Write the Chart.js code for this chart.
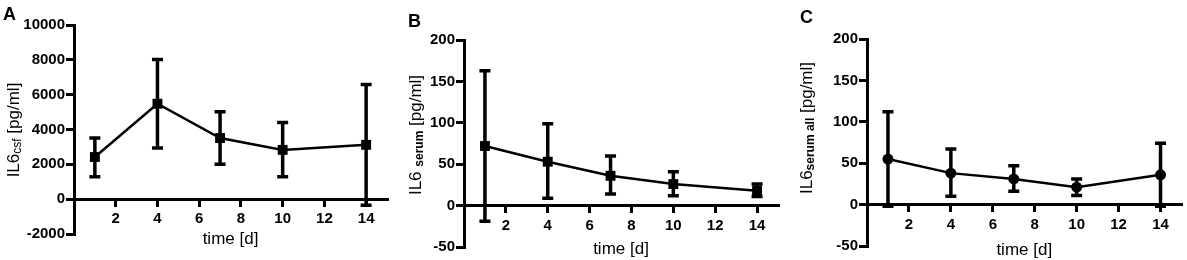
<!DOCTYPE html>
<html>
<head>
<meta charset="utf-8">
<script src="https://cdn.jsdelivr.net/npm/chart.js@4.4.1/dist/chart.umd.min.js"></script>
<style>
  html, body { margin: 0; padding: 0; background: #fff; }
  #wrap { position: relative; width: 1187px; height: 260px; }
  .panel { position: absolute; top: 0; height: 260px; }
</style>
</head>
<body>
<div id="wrap">
  <div class="panel" style="left:0;width:395px"><canvas id="chartA"></canvas></div>
  <div class="panel" style="left:395px;width:395px"><canvas id="chartB"></canvas></div>
  <div class="panel" style="left:790px;width:397px"><canvas id="chartC"></canvas></div>
</div>
<script>
// days of sampling
const days = [1, 4, 7, 10, 14];
const xTicks = [2, 4, 6, 8, 10, 12, 14];

// A: IL6 in csf
const csfMean = [2420, 5480, 3510, 2830, 3120];
const csfLow = [1280, 2940, 2010, 1280, -350];
const csfHigh = [3510, 8020, 5020, 4400, 6580];
const csfTicks = [-2000, 0, 2000, 4000, 6000, 8000, 10000];

// B: IL6 serum
const serumMean = [72, 53, 36, 26, 18];
const serumLow = [-19, 9, 14, 12, 11];
const serumHigh = [163, 99, 60, 41, 26];

// C: IL6 serum all
const serumAllMean = [55, 38, 31, 21, 36];
const serumAllLow = [-2, 10, 16, 11, -2];
const serumAllHigh = [112, 67, 47, 31, 74];

const serumTicks = [-50, 0, 50, 100, 150, 200];

const FONT = '"Liberation Sans", Arial, sans-serif';
const INK = '#000';

const errorBars = {
  id: 'errorBars',
  beforeDatasetsDraw(chart, args, opts) {
    const { ctx, scales: { x, y } } = chart;
    ctx.save();
    ctx.strokeStyle = INK;
    ctx.lineWidth = 3.5;
    days.forEach((d, i) => {
      const px = x.getPixelForValue(d);
      const lo = y.getPixelForValue(opts.low[i]);
      const hi = y.getPixelForValue(opts.high[i]);
      ctx.beginPath();
      ctx.moveTo(px, lo);
      ctx.lineTo(px, hi);
      ctx.moveTo(px - 5.5, lo);
      ctx.lineTo(px + 5.5, lo);
      ctx.moveTo(px - 5.5, hi);
      ctx.lineTo(px + 5.5, hi);
      ctx.stroke();
    });
    ctx.restore();
  },
  afterDraw(chart, args, opts) {
    const { ctx } = chart;
    ctx.save();
    ctx.fillStyle = INK;
    // panel letter
    ctx.font = 'bold 18px ' + FONT;
    ctx.textBaseline = 'alphabetic';
    ctx.fillText(opts.letter, opts.letterX, opts.letterY);
    // rotated y title with subscript
    ctx.translate(opts.titleX, opts.titleY);
    ctx.rotate(-Math.PI / 2);
    const big = '17px ' + FONT, small = opts.subFont + ' ' + FONT;
    const parts = [[opts.main, big, 0], [opts.sub, small, 4], [opts.rest, big, 0]];
    let total = 0;
    parts.forEach(p => { ctx.font = p[1]; total += ctx.measureText(p[0]).width; });
    let cx = -total / 2;
    ctx.textBaseline = 'middle';
    parts.forEach(p => {
      ctx.font = p[1];
      ctx.fillText(p[0], cx, p[2] + 1);
      cx += ctx.measureText(p[0]).width;
    });
    ctx.restore();
  }
};

function makeChart(id, o) {
  return new Chart(document.getElementById(id), {
    type: 'scatter',
    data: {
      datasets: [{
        data: days.map((d, i) => ({ x: d, y: o.mean[i] })),
        showLine: true,
        borderColor: INK,
        borderWidth: 2.5,
        pointStyle: o.point,
        pointRadius: o.point === 'rect' ? 7 : 5.5,
        pointBackgroundColor: INK,
        pointBorderColor: INK,
        pointBorderWidth: 0
      }]
    },
    options: {
      responsive: true,
      maintainAspectRatio: false,
      animation: false,
      events: [],
      layout: { padding: { top: o.top, bottom: o.bottom, right: o.right, left: 0 } },
      plugins: {
        legend: { display: false },
        tooltip: { enabled: false },
        errorBars: o.extra
      },
      scales: {
        x: {
          type: 'linear',
          position: { y: 0 },
          min: 0,
          max: 15,
          afterBuildTicks: s => { s.ticks = xTicks.map(v => ({ value: v })); },
          grid: { drawOnChartArea: false, drawTicks: true, tickLength: 6, lineWidth: 3, color: INK },
          border: { display: true, width: 3, color: INK },
          ticks: { color: INK, padding: 5, font: { family: FONT, size: 15, weight: 'bold' }, maxRotation: 0,
            callback: v => String(v) },
          title: { display: true, text: 'time [d]', color: INK, padding: { top: o.xtPad, bottom: 0 }, font: { family: FONT, size: 17 } }
        },
        y: {
          type: 'linear',
          min: o.yTicks[0],
          max: o.yTicks[o.yTicks.length - 1],
          afterBuildTicks: s => { s.ticks = o.yTicks.map(v => ({ value: v })); },
          afterFit: s => { s.width = o.axisW; },
          grid: { drawOnChartArea: false, drawTicks: true, tickLength: 8, lineWidth: 3, color: INK },
          border: { display: true, width: 3, color: INK },
          ticks: { color: INK, padding: 1, font: { family: FONT, size: 15, weight: 'bold' },
            callback: v => String(v) }
        }
      }
    },
    plugins: [errorBars]
  });
}

makeChart('chartA', {
  mean: csfMean, yTicks: csfTicks, point: 'rect',
  top: 25, bottom: 26, right: 8, axisW: 74, xtPad: -4,
  extra: { low: csfLow, high: csfHigh, letter: 'A', letterX: 3, letterY: 20,
    titleX: 13, titleY: 130, main: 'IL6', sub: 'csf', rest: ' [pg/ml]', subFont: '12px' }
});
makeChart('chartB', {
  mean: serumMean, yTicks: serumTicks, point: 'rect',
  top: 40, bottom: 13, right: 12, axisW: 69, xtPad: 0,
  extra: { low: serumLow, high: serumHigh, letter: 'B', letterX: 13, letterY: 27,
    titleX: 20, titleY: 135, main: 'IL6 ', sub: 'serum', rest: ' [pg/ml]', subFont: 'bold 12px' }
});
makeChart('chartC', {
  mean: serumAllMean, yTicks: serumTicks, point: 'circle',
  top: 39, bottom: 14, right: 5, axisW: 77, xtPad: 2,
  extra: { low: serumAllLow, high: serumAllHigh, letter: 'C', letterX: 10, letterY: 23,
    titleX: 16, titleY: 128, main: 'IL6', sub: 'serum all', rest: ' [pg/ml]', subFont: 'bold 12px' }
});
</script>
</body>
</html>
